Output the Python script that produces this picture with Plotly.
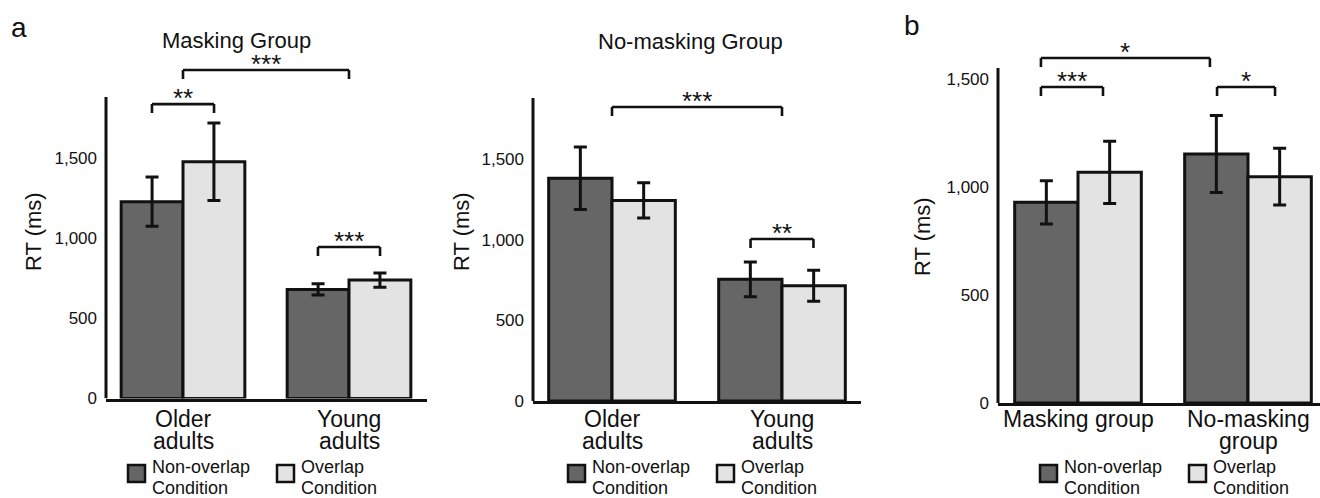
import plotly.graph_objects as go

# ---------------------------------------------------------------- data
age_groups = ["Older\nadults", "Young\nadults"]
mask_groups = ["Masking group", "No-masking\ngroup"]
condition_names = ["Non-overlap\nCondition", "Overlap\nCondition"]
panel_titles = ["Masking Group", "No-masking Group"]
panel_letters = ["a", "b"]
y_axis_title = "RT (ms)"

# mean RT (ms) and standard errors
masking_nonoverlap = [1230, 682]
masking_nonoverlap_se = [154, 35]
masking_overlap = [1480, 740]
masking_overlap_se = [242, 44]

nomasking_nonoverlap = [1383, 756]
nomasking_nonoverlap_se = [194, 108]
nomasking_overlap = [1246, 716]
nomasking_overlap_se = [109, 96]

pooled_nonoverlap = [929, 1153]
pooled_nonoverlap_se = [100, 178]
pooled_overlap = [1068, 1048]
pooled_overlap_se = [144, 131]

y_tick_values = [0, 500, 1000, 1500]
y_tick_labels = ["0", "500", "1,000", "1,500"]

# ---------------------------------------------------------------- style
W, H = 1320, 498
FONT = "Liberation Sans, Arial, Helvetica, sans-serif"
DARK = "#666666"
LIGHT = "#e3e3e3"
INK = "#111111"
LEG_PX = 9  # bracket leg length in pixels


def fx(p):
    return p / W


def fy(p):
    return 1 - p / H


# geometry of each panel in pixels
panels = [
    dict(x_px=(106, 427), centers=(183, 349), zero=398.5, scale=0.16, axis_top=1884,
         cats=age_groups, nonoverlap=(masking_nonoverlap, masking_nonoverlap_se),
         overlap=(masking_overlap, masking_overlap_se),
         title=panel_titles[0], title_xy=(236, 40), ytitle_xy=(33, 232),
         legend_x=(128, 277),
         brackets=[("**", -0.187, 0.187, 1840), ("***", 0.0, 1.0, 2053),
                   ("***", 0.813, 1.187, 947)]),
    dict(x_px=(533, 861), centers=(612, 782), zero=401, scale=0.161, axis_top=1882,
         cats=age_groups, nonoverlap=(nomasking_nonoverlap, nomasking_nonoverlap_se),
         overlap=(nomasking_overlap, nomasking_overlap_se),
         title=panel_titles[1], title_xy=(690, 41), ytitle_xy=(461, 232),
         legend_x=(568, 717),
         brackets=[("***", 0.0, 1.0, 1826), ("**", 0.815, 1.185, 1006)]),
    dict(x_px=(998, 1320), centers=(1078, 1248), zero=403, scale=0.216, axis_top=1551,
         cats=mask_groups, nonoverlap=(pooled_nonoverlap, pooled_nonoverlap_se),
         overlap=(pooled_overlap, pooled_overlap_se),
         title=None, title_xy=None, ytitle_xy=(923, 237),
         legend_x=(1040, 1189),
         brackets=[("*", -0.218, 0.776, 1597), ("***", -0.218, 0.147, 1463),
                   ("*", 0.818, 1.159, 1463)]),
]

fig = go.Figure()
shapes = []
annotations = []
layout_axes = {}
DOMAIN_TOP_PX = 20

for i, p in enumerate(panels):
    n = "" if i == 0 else str(i + 1)
    xa, ya = "x" + n, "y" + n
    c0, c1 = p["centers"]
    unit = c1 - c0
    xl, xr = p["x_px"]
    cats = [c.replace("\n", " ") for c in p["cats"]]

    for (vals, se), color in ((p["nonoverlap"], DARK), (p["overlap"], LIGHT)):
        fig.add_trace(go.Bar(
            x=cats, y=vals, xaxis=xa, yaxis=ya, showlegend=False,
            marker=dict(color=color, line=dict(color=INK, width=3)),
            error_y=dict(type="data", array=se, visible=True,
                         color=INK, thickness=3, width=6.5),
        ))

    layout_axes["xaxis" + n] = dict(
        domain=[fx(xl), fx(xr)], anchor=ya, type="category", automargin=False,
        range=[(xl - c0) / unit, (xr - c0) / unit],
        showline=True, linewidth=3, linecolor=INK, showticklabels=False,
        ticks="", showgrid=False, zeroline=False, fixedrange=True)
    ymax = (p["zero"] - DOMAIN_TOP_PX) / p["scale"]
    layout_axes["yaxis" + n] = dict(
        domain=[fy(p["zero"]), fy(DOMAIN_TOP_PX)], anchor=xa, automargin=False,
        range=[0, ymax], showline=False, showgrid=False, zeroline=False,
        tickvals=y_tick_values, ticktext=y_tick_labels, ticks="",
        ticklabelstandoff=8, tickfont=dict(size=17, color=INK), fixedrange=True)

    # vertical axis line
    shapes.append(dict(type="line", xref=xa + " domain", yref=ya,
                       x0=0, x1=0, y0=0, y1=p["axis_top"],
                       line=dict(color=INK, width=3)))

    # significance brackets
    leg = LEG_PX / p["scale"]
    for stars, b0, b1, yb in p["brackets"]:
        for seg in ((b0, yb - leg, b0, yb), (b0, yb, b1, yb), (b1, yb, b1, yb - leg)):
            shapes.append(dict(type="line", xref=xa, yref=ya,
                               x0=seg[0], y0=seg[1], x1=seg[2], y1=seg[3],
                               line=dict(color=INK, width=2.6)))
        annotations.append(dict(xref=xa, yref=ya, x=(b0 + b1) / 2, y=yb,
                                text=stars, showarrow=False, xanchor="center",
                                yanchor="middle", yshift=6,
                                font=dict(size=26, color=INK)))

    # category labels under the axis, tight line spacing
    for k, cat in enumerate(p["cats"]):
        for j, line in enumerate(cat.split("\n")):
            annotations.append(dict(xref=xa, yref="paper", x=k, y=fy(419 + 21.7 * j),
                                    text=line, showarrow=False, xanchor="center",
                                    yanchor="middle", borderpad=0,
                                    font=dict(size=23, color=INK)))

    # panel title
    if p["title"]:
        tx, ty = p["title_xy"]
        annotations.append(dict(xref="paper", yref="paper", x=fx(tx), y=fy(ty),
                                text=p["title"], showarrow=False, xanchor="center",
                                yanchor="middle", font=dict(size=22, color=INK)))

    # y-axis title
    tx, ty = p["ytitle_xy"]
    annotations.append(dict(xref="paper", yref="paper", x=fx(tx), y=fy(ty),
                            text=y_axis_title, textangle=-90, showarrow=False,
                            xanchor="center", yanchor="middle",
                            font=dict(size=22, color=INK)))

    # condition key
    for sx, name, color in zip(p["legend_x"], condition_names, (DARK, LIGHT)):
        shapes.append(dict(type="rect", xref="paper", yref="paper",
                           x0=fx(sx), x1=fx(sx + 17), y0=fy(482), y1=fy(465),
                           fillcolor=color, line=dict(color=INK, width=2.5)))
        for j, line in enumerate(name.split("\n")):
            annotations.append(dict(xref="paper", yref="paper", x=fx(sx + 23),
                                    y=fy(467 + 20.5 * j), text=line, showarrow=False,
                                    xanchor="left", yanchor="middle", borderpad=0,
                                    font=dict(size=18, color=INK)))

# panel letters
for letter, (lx, ly) in zip(panel_letters, ((19, 27), (912, 26))):
    annotations.append(dict(xref="paper", yref="paper", x=fx(lx), y=fy(ly),
                            text=letter, showarrow=False, xanchor="center",
                            yanchor="middle", font=dict(size=28, color=INK)))

fig.update_layout(
    width=W, height=H, autosize=False,
    margin=dict(l=0, r=0, t=0, b=0, pad=0, autoexpand=False),
    paper_bgcolor="white", plot_bgcolor="white",
    font=dict(family=FONT, color=INK),
    barmode="group", bargap=0.255, bargroupgap=0,
    shapes=shapes, annotations=annotations,
    **layout_axes,
)

fig.write_html("out.html")
